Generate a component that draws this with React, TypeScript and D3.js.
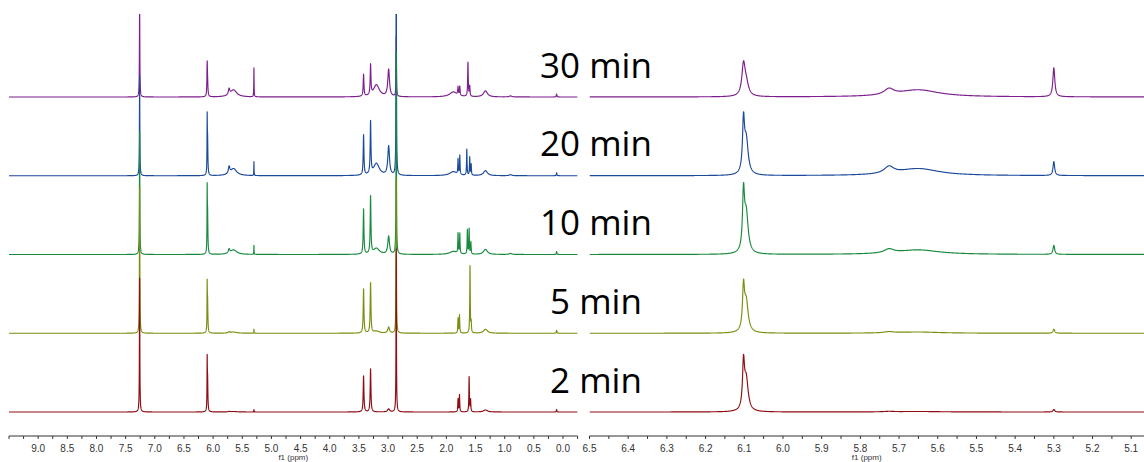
import React from "react";
import * as d3 from "d3";

// ---- data ----
const TIMES = ["30 min", "20 min", "10 min", "5 min", "2 min"];
const COLORS = ["#7d1e8e", "#1b4a9a", "#178a3e", "#7b8e10", "#8e0c12"];

// each peak: [ppm, intensity, line width (ppm)]
const PEAKS_30: number[][] = [
  [7.26, 95, 0.008], [6.102, 30, 0.01], [6.095, 12, 0.014], [5.726, 6, 0.03], [5.65, 7, 0.13],
  [5.3, 29, 0.006], [3.42, 22, 0.015], [3.3, 30, 0.015], [3.2, 12, 0.12], [2.99, 27, 0.035],
  [2.86, 60, 0.008], [1.88, 5, 0.15], [1.8, 8, 0.012], [1.77, 9, 0.012], [1.63, 34, 0.012],
  [1.6, 10, 0.012], [1.33, 6, 0.08], [0.9, 1, 0.05], [0.11, 3, 0.01],
];
const PEAKS_20: number[][] = [
  [7.26, 100, 0.008], [6.102, 49, 0.006], [6.095, 35, 0.012], [5.726, 7, 0.03], [5.65, 7, 0.13],
  [5.3, 14, 0.005], [3.42, 40, 0.015], [3.3, 52, 0.015], [3.2, 12, 0.12], [2.99, 29, 0.035],
  [2.86, 250, 0.008], [1.88, 4, 0.15], [1.8, 15, 0.01], [1.77, 19, 0.01], [1.65, 26, 0.01],
  [1.6, 18, 0.01], [1.575, 11, 0.01], [1.33, 5, 0.08], [0.9, 1, 0.05], [0.11, 3, 0.01],
];
const PEAKS_10: number[][] = [
  [7.26, 123, 0.008], [6.102, 55, 0.006], [6.095, 40, 0.012], [5.726, 4, 0.03], [5.65, 4.5, 0.13],
  [5.3, 9, 0.005], [3.42, 45, 0.015], [3.3, 57, 0.015], [3.2, 6, 0.12], [2.99, 18, 0.035],
  [2.86, 202, 0.008], [1.88, 3, 0.15], [1.8, 20, 0.01], [1.77, 20, 0.01], [1.64, 24, 0.01],
  [1.61, 25, 0.01], [1.58, 12, 0.01], [1.33, 5, 0.08], [0.9, 1, 0.05], [0.11, 3, 0.01],
];
const PEAKS_5: number[][] = [
  [7.26, 146, 0.008], [6.102, 41, 0.006], [6.095, 31, 0.012], [5.726, 1.2, 0.03], [5.65, 1.2, 0.13],
  [5.3, 4, 0.005], [3.42, 44, 0.015], [3.3, 50, 0.015], [3.2, 2, 0.12], [2.99, 6, 0.035],
  [2.86, 155, 0.008], [1.8, 15, 0.01], [1.775, 18, 0.01], [1.595, 67, 0.01], [1.575, 10, 0.01],
  [1.33, 4, 0.08], [0.11, 3, 0.01],
];
const PEAKS_2: number[][] = [
  [7.26, 134, 0.008], [6.102, 44, 0.006], [6.095, 32, 0.012], [5.726, 0.5, 0.03], [5.65, 0.5, 0.13],
  [5.3, 2.5, 0.005], [3.42, 36, 0.015], [3.3, 43, 0.015], [2.99, 3, 0.04],
  [2.86, 163, 0.008], [1.8, 13, 0.01], [1.775, 17, 0.01], [1.61, 35, 0.01], [1.585, 12, 0.01],
  [1.33, 2, 0.08], [0.11, 2.5, 0.01],
];
const SPECTRA = [PEAKS_30, PEAKS_20, PEAKS_10, PEAKS_5, PEAKS_2];

const LEFT_DOMAIN = [9.5, -0.25];
const RIGHT_DOMAIN = [6.5, 5.067];
const LEFT_LABELS = [9.0, 8.5, 8.0, 7.5, 7.0, 6.5, 6.0, 5.5, 5.0, 4.5, 4.0, 3.5, 3.0, 2.5, 2.0, 1.5, 1.0, 0.5, 0.0];
const RIGHT_LABELS = [6.5, 6.4, 6.3, 6.2, 6.1, 6.0, 5.9, 5.8, 5.7, 5.6, 5.5, 5.4, 5.3, 5.2, 5.1];
const AXIS_TITLE = "f1 (ppm)";

// ---- layout ----
const W = 1144;
const H = 462;
const AXIS_Y = 436;
const TOP = 14;

function intensityAt(peaks: number[][], ppm: number) {
  let s = 0;
  for (const [c, h, w] of peaks) {
    const d = (ppm - c) / (w / 2);
    s += h / (1 + d * d);
  }
  return s;
}

function Panel({ id, domain, range, step, labels, minorStep }: any) {
  const x = d3.scaleLinear().domain(domain).range(range);
  const base = d3.scalePoint<string>().domain(TIMES).range([97, 412]);
  const yk = d3.scaleLinear().domain([0, 100]).range([0, 100]);
  const n = Math.round((domain[0] - domain[1]) / step);
  const ppms = d3.range(n + 1).map((i) => domain[0] - i * step);
  const minor = d3.range(Math.round((domain[0] - domain[1]) / minorStep) + 1)
    .map((i) => +(domain[0] - i * minorStep).toFixed(3))
    .filter((v) => v >= domain[1] - 1e-9);
  const order = [0, 1, 2, 3, 4];
  const mid = x((domain[0] + domain[1]) / 2);
  return (
    <g>
      <defs>
        <clipPath id={id}>
          <rect x={range[0]} y={TOP} width={range[1] - range[0]} height={AXIS_Y - TOP} />
        </clipPath>
      </defs>
      <g clipPath={`url(#${id})`}>
        {order.map((k) => {
          const b = base(TIMES[k])!;
          const line = d3.line<number>()
            .x((p) => x(p))
            .y((p) => b - yk(intensityAt(SPECTRA[k], p)));
          return (
            <path key={k} d={line(ppms) || ""} fill="none" stroke={COLORS[k]} strokeWidth={1.15} strokeLinejoin="round" />
          );
        })}
      </g>
      <line x1={range[0]} x2={range[1]} y1={AXIS_Y} y2={AXIS_Y} stroke="#333" strokeWidth={1} />
      {minor.map((v: number) => (
        <line key={"m" + v} x1={x(v)} x2={x(v)} y1={AXIS_Y} y2={AXIS_Y + 3} stroke="#333" strokeWidth={1} />
      ))}
      {labels.map((v: number) => (
        <text key={"l" + v} x={x(v)} y={AXIS_Y + 16} textAnchor="middle" fontSize={10}
          fontFamily="Liberation Sans, Arial, sans-serif" fill="#333">
          {v.toFixed(1)}
        </text>
      ))}
      <text x={mid} y={AXIS_Y + 24} textAnchor="middle" fontSize={8}
        fontFamily="Liberation Sans, Arial, sans-serif" fill="#333">
        {AXIS_TITLE}
      </text>
    </g>
  );
}

export default function App() {
  return (
    <svg width={W} height={H} style={{ position: "absolute", left: 0, top: 0, background: "#fff" }}>
      <rect x={0} y={0} width={W} height={H} fill="#fff" />
      <Panel id="clipL" domain={LEFT_DOMAIN} range={[9, 577.6]} step={0.001} labels={LEFT_LABELS} minorStep={0.25} />
      <Panel id="clipR" domain={RIGHT_DOMAIN} range={[589.5, 1144]} step={0.0005} labels={RIGHT_LABELS} minorStep={0.05} />
      {TIMES.map((t, i) => (
        <text key={t} x={596} y={77.7 + i * 78.75} textAnchor="middle" fontSize={35}
          fontFamily="Open Sans, sans-serif" fill="#000">
          {t}
        </text>
      ))}
    </svg>
  );
}
